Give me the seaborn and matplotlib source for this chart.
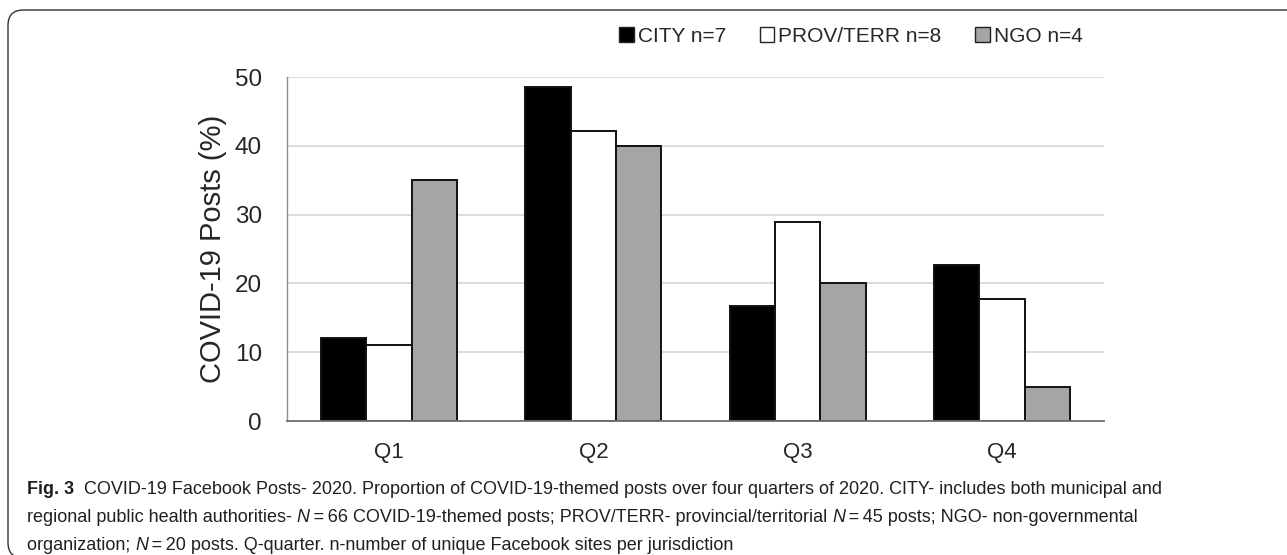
"""COVID-19 Facebook posts by quarter, grouped bar chart (Fig. 3 recreation)."""

import matplotlib

matplotlib.use("Agg")

import matplotlib.pyplot as plt
import pandas as pd
import seaborn as sns
from matplotlib.patches import FancyBboxPatch, Patch

QUARTERS = ["Q1", "Q2", "Q3", "Q4"]
GROUPS = ["CITY n=7", "PROV/TERR n=8", "NGO n=4"]
CITY = [12.1, 48.5, 16.7, 22.7]
PROV_TERR = [11.1, 42.2, 28.9, 17.8]
NGO = [35.0, 40.0, 20.0, 5.0]
Y_TICKS = [0, 10, 20, 30, 40, 50]

GROUP_COLORS = {
    "CITY n=7": "#000000",
    "PROV/TERR n=8": "#ffffff",
    "NGO n=4": "#a5a5a5",
}

CAPTION_FAMILY = ["Liberation Sans Narrow", "DejaVu Sans Condensed", "Liberation Sans", "DejaVu Sans"]


def build_frame() -> pd.DataFrame:
    rows = []
    for group, values in zip(GROUPS, [CITY, PROV_TERR, NGO]):
        for quarter, value in zip(QUARTERS, values):
            rows.append({"quarter": quarter, "group": group, "share": value})
    return pd.DataFrame(rows)


def draw_runs(fig, x_px, y_px, runs, size):
    """Place text runs one after another on a single caption line."""
    renderer = fig.canvas.get_renderer()
    x = x_px
    for text, weight, style in runs:
        t = fig.text(
            x / fig.bbox.width,
            1 - y_px / fig.bbox.height,
            text,
            fontsize=size,
            fontweight=weight,
            fontstyle=style,
            family=CAPTION_FAMILY,
            color="#231f20",
            va="center",
            ha="left",
        )
        x += t.get_window_extent(renderer).width


sns.set_style("white")
plt.rcParams["font.family"] = ["Liberation Sans", "DejaVu Sans"]

df = build_frame()

fig = plt.figure(figsize=(12.87, 5.55), dpi=100)
ax = fig.add_axes([287 / 1287, 1 - 421 / 555, 817 / 1287, 344 / 555])

sns.barplot(
    data=df,
    x="quarter",
    y="share",
    hue="group",
    order=QUARTERS,
    hue_order=GROUPS,
    palette=GROUP_COLORS,
    width=0.667,
    edgecolor="#111111",
    linewidth=1.4,
    legend=False,
    ax=ax,
)

ax.set_ylim(0, 50)
ax.set_xlim(-0.5, 3.5)
ax.set_yticks(Y_TICKS)
ax.yaxis.grid(True, color="#d9d9d9", linewidth=1.3)
ax.set_axisbelow(True)
ax.tick_params(axis="y", labelsize=17.5, length=0, pad=18)
ax.tick_params(axis="x", labelsize=16, length=0, pad=15)
ax.set_xlabel("")
ax.set_ylabel("COVID-19 Posts (%)", fontsize=21, labelpad=6)
for side in ["top", "right"]:
    ax.spines[side].set_visible(False)
ax.spines["left"].set_color("#8c8c8c")
ax.spines["bottom"].set_color("#6e6e6e")
ax.spines["left"].set_linewidth(1.0)
ax.spines["bottom"].set_linewidth(1.3)

handles = [
    Patch(facecolor=GROUP_COLORS[g], edgecolor="#222222", linewidth=1.0, label=g)
    for g in GROUPS
]
fig.legend(
    handles=handles,
    loc="center left",
    bbox_to_anchor=(611 / 1287, 1 - 36 / 555),
    ncol=3,
    frameon=False,
    fontsize=15,
    handlelength=0.7,
    handleheight=0.7,
    handletextpad=0.2,
    columnspacing=1.6,
    borderaxespad=0,
)

# rounded frame around the figure panel (continues past right/bottom edges)
frame = FancyBboxPatch(
    (8 / 1287, 1 - 558 / 555),
    1300 / 1287,
    548 / 555,
    boxstyle="round,pad=0,rounding_size=0.012",
    transform=fig.transFigure,
    facecolor="none",
    edgecolor="#333333",
    linewidth=1.0,
    mutation_aspect=1287 / 555,
    clip_on=False,
)
fig.add_artist(frame)

cap_size = 13.0
fig.canvas.draw()
draw_runs(
    fig,
    27,
    490,
    [
        ("Fig. 3", "bold", "normal"),
        (
            "  COVID-19 Facebook Posts- 2020. Proportion of COVID-19-themed posts over four "
            "quarters of 2020. CITY- includes both municipal and",
            "normal",
            "normal",
        ),
    ],
    cap_size,
)
draw_runs(
    fig,
    27,
    518,
    [
        ("regional public health authorities- ", "normal", "normal"),
        ("N", "normal", "italic"),
        ("\u2009=\u200966 COVID-19-themed posts; PROV/TERR- provincial/territorial ", "normal", "normal"),
        ("N", "normal", "italic"),
        ("\u2009=\u200945 posts; NGO- non-governmental", "normal", "normal"),
    ],
    cap_size,
)
draw_runs(
    fig,
    27,
    546,
    [
        ("organization; ", "normal", "normal"),
        ("N", "normal", "italic"),
        ("\u2009=\u200920 posts. Q-quarter. n-number of unique Facebook sites per jurisdiction", "normal", "normal"),
    ],
    cap_size,
)

fig.savefig("out.png", dpi=100)
